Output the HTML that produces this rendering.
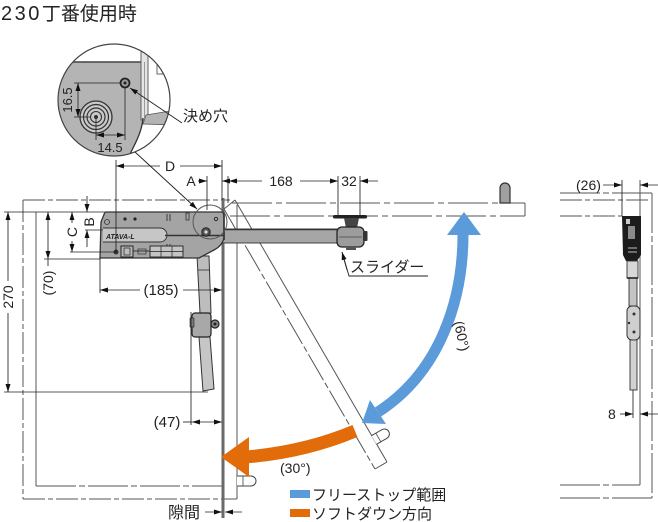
<!DOCTYPE html>
<html><head><meta charset="utf-8"><style>
html,body{margin:0;padding:0;background:#fff;}
svg{display:block;}
text{font-family:"Liberation Sans","Noto Sans CJK JP",sans-serif;fill:#222;}
</style></head><body>
<svg width="658" height="522" viewBox="0 0 658 522" xmlns="http://www.w3.org/2000/svg">
<defs>
<marker id="a" viewBox="0 0 8 6" refX="8" refY="3" markerWidth="8" markerHeight="5" orient="auto-start-reverse" markerUnits="userSpaceOnUse" preserveAspectRatio="none"><path d="M0,0L8,3L0,6z" fill="#111"/></marker>
<clipPath id="cc"><circle cx="114" cy="100" r="56"/></clipPath>
</defs>

<!-- Title -->
<text x="1" y="20" font-size="19"><tspan font-size="20" letter-spacing="2.5">230</tspan>丁番使用時</text>

<!-- Magnified circle -->
<g clip-path="url(#cc)">
  <rect x="50" y="40" width="130" height="120" fill="#fff"/>
  <path d="M50,62 L143,62 L143,118 C142,132 135,144 128,158 L50,158 Z" fill="#b4b4b4"/>
  <line x1="55" y1="62" x2="143" y2="62" stroke="#444" stroke-width="1.5"/>
  <rect x="141" y="38" width="7" height="82" fill="#e4e4e4" stroke="#555" stroke-width="0.9"/>
  <line x1="144.5" y1="62" x2="144.5" y2="118" stroke="#888" stroke-width="0.8"/>
  <path d="M157,44 L157,74 L168,74 L159,61" fill="none" stroke="#666" stroke-width="1"/>
  <polygon points="146,115 176,110 176,125 143,124" fill="#b4b4b4" stroke="#555" stroke-width="0.8"/>
  <path d="M143,118 C142,132 135,144 128,158" fill="none" stroke="#333" stroke-width="1.3"/>
  <circle cx="96" cy="117" r="16" fill="#c8c8c8" stroke="#333" stroke-width="1.3"/>
  <circle cx="96" cy="117" r="12.5" fill="none" stroke="#333" stroke-width="1.2"/>
  <circle cx="96" cy="117" r="9" fill="none" stroke="#333" stroke-width="1.2"/>
  <circle cx="96" cy="117" r="5.5" fill="none" stroke="#333" stroke-width="1.1"/>
  <circle cx="96" cy="117" r="2" fill="#333"/>
  <circle cx="125" cy="83" r="4.5" fill="#999" stroke="#222" stroke-width="1.8"/>
  <circle cx="125" cy="83" r="1.5" fill="#222"/>
  <line x1="74" y1="83" x2="121" y2="83" stroke="#222" stroke-width="0.8"/>
  <line x1="74" y1="117" x2="90" y2="117" stroke="#222" stroke-width="0.8"/>
  <line x1="78" y1="83" x2="78" y2="117" stroke="#222" stroke-width="0.8" marker-start="url(#a)" marker-end="url(#a)"/>
  <line x1="125" y1="88" x2="125" y2="140" stroke="#222" stroke-width="0.8"/>
  <line x1="96" y1="117" x2="96" y2="140" stroke="#222" stroke-width="0.8"/>
  <line x1="96" y1="135" x2="125" y2="135" stroke="#222" stroke-width="0.8" marker-start="url(#a)" marker-end="url(#a)"/>
  <text transform="translate(72,100) rotate(-90)" font-size="13" text-anchor="middle">16.5</text>
  <text x="110" y="152" font-size="13" text-anchor="middle">14.5</text>
</g>
<circle cx="114" cy="100" r="56" fill="none" stroke="#444" stroke-width="1.2"/>

<line x1="182" y1="123" x2="130" y2="88" stroke="#222" stroke-width="0.9" marker-end="url(#a)"/>
<text x="183" y="121" font-size="15">決め穴</text>
<line x1="135" y1="152" x2="197" y2="209" stroke="#222" stroke-width="0.9" marker-end="url(#a)"/>

<!-- Cabinet outlines -->
<g fill="none" stroke="#555" stroke-width="1">
  <line x1="23" y1="200" x2="23" y2="499" stroke-dasharray="22 3 5 3"/>
  <line x1="23" y1="200" x2="230" y2="200" stroke-dasharray="22 3 5 3"/>
  <line x1="23" y1="499" x2="237" y2="499" stroke-dasharray="22 3 5 3"/>
  <line x1="36" y1="212" x2="36" y2="486"/>
  <line x1="36" y1="486" x2="222" y2="486" stroke-dasharray="40 3 6 3"/>
  <line x1="237" y1="205" x2="237" y2="499"/>
  <line x1="232" y1="203" x2="525" y2="203" stroke-dasharray="40 4 6 4"/>
  <line x1="230" y1="216" x2="525" y2="216" stroke-dasharray="40 4 6 4"/>
  <line x1="525" y1="203" x2="525" y2="216"/>
  <line x1="235" y1="200" x2="387" y2="462"/>
  <line x1="224" y1="209" x2="375" y2="469" stroke-dasharray="30 3 6 3"/>
  <line x1="375" y1="469" x2="387" y2="462"/>
  <line x1="224" y1="209" x2="235" y2="200"/>
</g>
<line x1="223" y1="198" x2="223" y2="518" stroke="#6a6a6a" stroke-width="3"/>

<!-- knobs -->
<path d="M500,203 L500,188 A5,5 0 0 1 510,188 L510,203 Z" fill="#a0a0a0" stroke="#333" stroke-width="1.2"/>
<g transform="translate(374,440) rotate(-30)">
  <path d="M0,-5 L12,-5 A5,5 0 0 1 12,5 L0,5" fill="#fff" stroke="#444" stroke-width="1"/>
  <line x1="5" y1="-5" x2="5" y2="5" stroke="#444" stroke-width="0.8"/>
</g>
<path d="M237,476 L251,476 A5,5 0 0 1 251,486 L237,486" fill="#fff" stroke="#444" stroke-width="1"/>
<line x1="243" y1="476" x2="243" y2="486" stroke="#444" stroke-width="0.8"/>

<!-- Arm -->
<rect x="214" y="229" width="126" height="14" fill="#a6a6a6" stroke="#333" stroke-width="0.9"/>
<line x1="214" y1="229.5" x2="340" y2="229.5" stroke="#333" stroke-width="1.6"/>

<!-- Strut left view -->
<polygon points="197,256 209,256 211,313 200,313" fill="#bdbdbd" stroke="#333" stroke-width="1"/>
<line x1="198" y1="270" x2="210" y2="270" stroke="#333" stroke-width="0.8"/>
<polygon points="199,337 210,337 214,389 203,391" fill="#c6c6c6" stroke="#333" stroke-width="1"/>
<rect x="192" y="313" width="19" height="24" rx="3" fill="#a8a8a8" stroke="#222" stroke-width="1.2"/>
<rect x="190" y="318" width="4" height="9" fill="#777" stroke="#222" stroke-width="0.6"/>
<circle cx="215" cy="324" r="4" fill="#888" stroke="#222" stroke-width="1.2"/>
<circle cx="215" cy="324" r="1.5" fill="#222"/>

<!-- Hinge body -->
<path d="M105,212 L223,212 L224,216 L224,238 Q222,246 214,250 L199,258 L100,258 L101,222 Z" fill="#a4a4a4" stroke="#333" stroke-width="1.3"/>
<path d="M103,228 L160,228 A7,7 0 0 1 160,242 L103,242" fill="#c6c6c6" stroke="#333" stroke-width="0.9"/>
<text x="106" y="239" font-size="7" font-weight="bold" font-style="italic" fill="#222">ATAVA-L</text>
<line x1="165" y1="235.5" x2="224" y2="235.5" stroke="#333" stroke-width="1.6"/>
<line x1="224" y1="212" x2="224" y2="240" stroke="#333" stroke-width="1.6"/>
<circle cx="107" cy="222" r="2.5" fill="none" stroke="#333" stroke-width="0.8"/>
<circle cx="125" cy="219" r="1.6" fill="#222"/>
<circle cx="135" cy="219" r="1.6" fill="#222"/>
<line x1="167" y1="214" x2="167" y2="221" stroke="#333" stroke-width="0.9"/>
<line x1="170" y1="214" x2="170" y2="221" stroke="#333" stroke-width="0.9"/>
<rect x="186" y="213" width="3" height="7" fill="none" stroke="#333" stroke-width="0.8"/>
<line x1="167" y1="244" x2="167" y2="251" stroke="#333" stroke-width="0.9"/>
<line x1="170" y1="244" x2="170" y2="251" stroke="#333" stroke-width="0.9"/>
<circle cx="116" cy="252" r="2.5" fill="#333"/>
<rect x="121" y="246" width="12" height="11" fill="#bbb" stroke="#222" stroke-width="1"/>
<rect x="124" y="248" width="6" height="7" fill="none" stroke="#222" stroke-width="0.7"/>
<line x1="133" y1="251" x2="150" y2="251" stroke="#333" stroke-width="0.9"/>
<rect x="138" y="249" width="8" height="5" fill="none" stroke="#333" stroke-width="0.7"/>
<rect x="150" y="246" width="33" height="11" fill="#c4c4c4" stroke="#222" stroke-width="0.9"/>
<line x1="161" y1="246" x2="161" y2="257" stroke="#222" stroke-width="0.7"/>
<line x1="172" y1="246" x2="172" y2="257" stroke="#222" stroke-width="0.7"/>
<line x1="150" y1="251.5" x2="183" y2="251.5" stroke="#222" stroke-width="0.7"/>
<circle cx="210" cy="222" r="17" fill="none" stroke="#555" stroke-width="1"/>
<circle cx="206" cy="232" r="4.2" fill="#555" stroke="#222" stroke-width="1"/>
<circle cx="206" cy="232" r="1.6" fill="#ddd"/>
<circle cx="216" cy="219" r="1.7" fill="none" stroke="#222" stroke-width="0.9"/>

<!-- Slider -->
<rect x="333" y="215" width="34" height="3.5" rx="1.5" fill="#222"/>
<path d="M344,218 L359,218 L357,228 L346,228 Z" fill="#444"/>
<rect x="337" y="227" width="27" height="20" rx="5" fill="#9c9c9c" stroke="#222" stroke-width="1.3"/>
<line x1="339" y1="237" x2="362" y2="237" stroke="#444" stroke-width="0.7"/>
<rect x="363" y="231" width="4.5" height="10" rx="1" fill="#333"/>
<rect x="346" y="246" width="10" height="4" fill="#555"/>
<polyline points="342,252 349,276 428,276" fill="none" stroke="#222" stroke-width="0.9"/>
<line x1="347" y1="270" x2="342" y2="252" stroke="#222" stroke-width="0.9" marker-end="url(#a)"/>
<text x="350" y="272" font-size="15">スライダー</text>

<!-- Dimensions -->
<g stroke="#222" stroke-width="0.85" fill="none">
  <line x1="116" y1="160" x2="116" y2="252"/>
  <line x1="222" y1="160" x2="222" y2="200"/>
  <line x1="116" y1="166" x2="160" y2="166" marker-start="url(#a)"/>
  <line x1="180" y1="166" x2="222" y2="166" marker-end="url(#a)"/>
  <line x1="207" y1="176" x2="207" y2="210"/>
  <line x1="228" y1="176" x2="228" y2="203"/>
  <line x1="198" y1="181" x2="207" y2="181" marker-end="url(#a)"/>
  <line x1="228" y1="181" x2="222" y2="181" marker-end="url(#a)"/>
  <line x1="262" y1="181" x2="229" y2="181" marker-end="url(#a)"/>
  <line x1="300" y1="181" x2="338" y2="181" marker-end="url(#a)"/>
  <line x1="338" y1="176" x2="338" y2="215"/>
  <line x1="360" y1="176" x2="360" y2="215"/>
  <line x1="378" y1="181" x2="360" y2="181" marker-end="url(#a)"/>
  <line x1="4" y1="212" x2="104" y2="212"/>
  <line x1="4" y1="392" x2="208" y2="392"/>
  <line x1="8" y1="281" x2="8" y2="212" marker-end="url(#a)"/>
  <line x1="8" y1="313" x2="8" y2="392" marker-end="url(#a)"/>
  <line x1="48" y1="212" x2="48" y2="259" marker-start="url(#a)" marker-end="url(#a)"/>
  <line x1="48" y1="259" x2="48" y2="266"/>
  <line x1="44" y1="259" x2="100" y2="259"/>
  <line x1="72" y1="223" x2="72" y2="212" marker-end="url(#a)"/>
  <line x1="72" y1="241" x2="72" y2="252" marker-end="url(#a)"/>
  <line x1="70" y1="252" x2="116" y2="252"/>
  <line x1="87" y1="196" x2="87" y2="212" marker-end="url(#a)"/>
  <line x1="87" y1="247" x2="87" y2="230" marker-end="url(#a)"/>
  <line x1="85" y1="230" x2="103" y2="230"/>
  <line x1="100" y1="258" x2="100" y2="293"/>
  <line x1="100" y1="290" x2="140" y2="290" marker-start="url(#a)"/>
  <line x1="183" y1="290" x2="222" y2="290" marker-end="url(#a)"/>
  <line x1="191" y1="312" x2="191" y2="425"/>
  <line x1="183" y1="422" x2="192" y2="422"/>
  <line x1="192" y1="422" x2="222" y2="422" marker-start="url(#a)" marker-end="url(#a)"/>
  <line x1="205" y1="512" x2="222" y2="512" marker-end="url(#a)"/>
  <line x1="242" y1="512" x2="225" y2="512" marker-end="url(#a)"/>
</g>
<text x="170" y="171" font-size="14" text-anchor="middle">D</text>
<text x="191" y="186" font-size="14" text-anchor="middle">A</text>
<text x="281" y="186" font-size="14" text-anchor="middle">168</text>
<text x="349" y="186" font-size="14" text-anchor="middle">32</text>
<text transform="translate(13,297) rotate(-90)" font-size="14" text-anchor="middle">270</text>
<text transform="translate(53,283) rotate(-90)" font-size="14" text-anchor="middle">(70)</text>
<text transform="translate(77,232) rotate(-90)" font-size="14" text-anchor="middle">C</text>
<text transform="translate(94,222) rotate(-90)" font-size="14" text-anchor="middle">B</text>
<text x="161" y="295" font-size="15" text-anchor="middle">(185)</text>
<text x="167" y="427" font-size="15" text-anchor="middle">(47)</text>
<text x="168" y="518" font-size="16">隙間</text>

<!-- Blue arrow -->
<path d="M463,234 C463,300 440,372 378,412" fill="none" stroke="#5b9bd9" stroke-width="11"/>
<polygon points="464,212 447,235 481,235" fill="#5b9bd9"/>
<polygon points="362,423 386,424 370,400" fill="#5b9bd9"/>
<text transform="translate(457,337) rotate(78)" font-size="14" text-anchor="middle">(60°)</text>

<!-- Orange arrow -->
<path d="M355,431 Q305,452 246,457" fill="none" stroke="#e36c0a" stroke-width="13"/>
<polygon points="221,457 249,437 249,477" fill="#e36c0a"/>
<text x="280" y="473" font-size="14">(30°)</text>

<!-- Legend -->
<rect x="290" y="490" width="20" height="8" fill="#5b9bd9"/>
<text x="312" y="500" font-size="15">フリーストップ範囲</text>
<rect x="290" y="509" width="20" height="8" fill="#e36c0a"/>
<text x="312" y="519" font-size="15">ソフトダウン方向</text>

<!-- Right side view -->
<g fill="none" stroke="#555" stroke-width="1">
  <line x1="560" y1="193" x2="652" y2="193" stroke-dasharray="40 3 6 3"/>
  <line x1="560" y1="200" x2="650" y2="200" stroke-dasharray="22 3 5 3"/>
  <line x1="560" y1="216" x2="622" y2="216" stroke-dasharray="22 3 5 3"/>
  <line x1="652" y1="193" x2="652" y2="498" stroke-dasharray="40 3 6 3"/>
  <line x1="640" y1="180" x2="640" y2="485"/>
  <line x1="560" y1="485" x2="640" y2="485" stroke-dasharray="40 3 6 3"/>
  <line x1="560" y1="498" x2="652" y2="498" stroke-dasharray="40 3 6 3"/>
</g>
<path d="M622,216 L641,216 L641,255 L637,261 L626,261 L623,255 Z" fill="#1c1c1c"/>
<rect x="628" y="226" width="7" height="13" fill="#8a8a8a"/>
<rect x="626" y="219" width="4" height="5" fill="#ccc"/>
<line x1="628" y1="248" x2="637" y2="248" stroke="#bbb" stroke-width="1"/>
<line x1="628" y1="252" x2="637" y2="252" stroke="#bbb" stroke-width="1"/>
<rect x="627" y="261" width="11" height="17" fill="#d8d8d8" stroke="#333" stroke-width="0.9"/>
<rect x="629" y="278" width="8" height="28" fill="#c4c4c4" stroke="#333" stroke-width="0.9"/>
<line x1="627" y1="278" x2="638" y2="278" stroke="#222" stroke-width="1.6"/>
<rect x="627" y="306" width="13" height="34" rx="5" fill="#cfcfcf" stroke="#333" stroke-width="1"/>
<circle cx="634" cy="314" r="1.5" fill="#333"/>
<circle cx="634" cy="332" r="1.5" fill="#333"/>
<circle cx="629" cy="323" r="1.2" fill="#333"/>
<rect x="630" y="340" width="7" height="50" fill="#d2d2d2" stroke="#333" stroke-width="0.9"/>
<g stroke="#222" stroke-width="0.85" fill="none">
  <line x1="622" y1="180" x2="622" y2="216"/>
  <line x1="603" y1="185" x2="622" y2="185" marker-end="url(#a)"/>
  <line x1="658" y1="185" x2="640" y2="185" marker-end="url(#a)"/>
  <line x1="633" y1="390" x2="633" y2="418"/>
  <line x1="620" y1="414" x2="633" y2="414" marker-end="url(#a)"/>
  <line x1="658" y1="414" x2="640" y2="414" marker-end="url(#a)"/>
</g>
<text x="576" y="190" font-size="14">(26)</text>
<text x="608" y="419" font-size="14">8</text>
</svg>
</body></html>
